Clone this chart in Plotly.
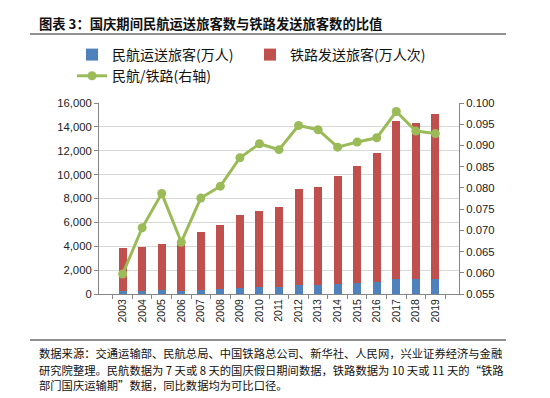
import plotly.graph_objects as go

years = [str(y) for y in range(2003, 2020)]
air = [217, 260, 303, 266, 373, 432, 528, 574, 597, 761, 770, 816, 893, 996, 1295, 1225, 1282]
rail = [3628, 3690, 3847, 3954, 4812, 5368, 6062, 6346, 6713, 8039, 8220, 9104, 9837, 10854, 13215, 13115, 13818]
ratio = [0.0597, 0.0706, 0.0787, 0.0672, 0.0776, 0.0804, 0.0871, 0.0904, 0.0890, 0.0947,
         0.0937, 0.0896, 0.0908, 0.0918, 0.0980, 0.0934, 0.0928]

left_ticks = list(range(0, 16001, 2000))
right_ticks = [0.055, 0.060, 0.065, 0.070, 0.075, 0.080, 0.085, 0.090, 0.095, 0.100]

W_FIG, H_FIG = 550, 398
L, R, T, B = 91, 99, 95, 112
PW = W_FIG - L - R
PH = H_FIG - T - B


def px_x(p):
    return (p - L) / PW


def px_y(p):
    return (T + PH - p) / PH


CJK = "Noto Sans CJK SC"
NUM = "Liberation Sans, Arial, sans-serif"

fig = go.Figure()
fig.add_trace(go.Bar(x=years, y=air, name="民航运送旅客(万人)", marker_color="#4F81BD",
                     marker_line_width=0))
fig.add_trace(go.Bar(x=years, y=rail, name="铁路发送旅客(万人次)", marker_color="#C0504D",
                     marker_line_width=0))
fig.add_trace(go.Scatter(x=years, y=ratio, name="民航/铁路(右轴)", yaxis="y2",
                         mode="lines+markers",
                         line=dict(color="#9BBB59", width=3),
                         marker=dict(color="#9BBB59", size=9)))

shapes = [
    dict(type="line", xref="paper", yref="paper", x0=px_x(22), x1=px_x(498),
         y0=px_y(26), y1=px_y(26), line=dict(color="#222222", width=1)),
    dict(type="line", xref="paper", yref="paper", x0=px_x(22), x1=px_x(498),
         y0=px_y(332), y1=px_y(332), line=dict(color="#222222", width=1)),
]

footer = [
    "数据来源：交通运输部、民航总局、中国铁路总公司、新华社、人民网，兴业证券经济与金融",
    "研究院整理。民航数据为 7 天或 8 天的国庆假日期间数据，铁路数据为 10 天或 11 天的“铁路",
    "部门国庆运输期”数据，同比数据均为可比口径。",
]
footer_y = [345, 361.5, 377]

annotations = [
    dict(text="<b>图表 3：国庆期间民航运送旅客数与铁路发送旅客数的比值</b>",
         xref="paper", yref="paper", x=px_x(29), y=px_y(16), xanchor="left", yanchor="middle",
         showarrow=False, font=dict(family=CJK, size=13.3, color="#111111")),
]
for t, yy in zip(footer, footer_y):
    annotations.append(dict(text=t, xref="paper", yref="paper", x=px_x(29), y=px_y(yy),
                            xanchor="left", yanchor="middle", showarrow=False,
                            font=dict(family=CJK, size=11.3, color="#111111")))

fig.update_layout(
    width=W_FIG, height=H_FIG,
    margin=dict(l=L, r=R, t=T, b=B, pad=0),
    paper_bgcolor="white", plot_bgcolor="white",
    barmode="stack", bargap=0.59,
    showlegend=True,
    legend=dict(orientation="h", x=px_x(64), y=px_y(31), xanchor="left", yanchor="top",
                traceorder="normal",
                font=dict(family=CJK, size=14, color="#111111"),
                entrywidth=133, entrywidthmode="pixels",
                itemwidth=30, tracegroupgap=0, bgcolor="rgba(0,0,0,0)"),
    xaxis=dict(type="category", tickangle=-90, tickson="boundaries", ticks="outside",
               ticklen=4, tickcolor="#868686", showline=True, linecolor="#868686",
               linewidth=1, showgrid=False,
               tickfont=dict(family=NUM, size=10.5, color="#222222")),
    yaxis=dict(range=[0, 16000], tickvals=left_ticks, tickformat=",d", ticks="outside",
               ticklen=4, tickcolor="#868686", showline=True, linecolor="#868686",
               linewidth=1, showgrid=True, gridcolor="#D9D9D9", gridwidth=1,
               zeroline=False,
               tickfont=dict(family=NUM, size=11.3, color="#222222")),
    yaxis2=dict(range=[0.055, 0.100], tickvals=right_ticks, tickformat=".3f",
                overlaying="y", side="right", ticks="outside", ticklen=4,
                tickcolor="#868686", showline=True, linecolor="#868686", linewidth=1,
                showgrid=False, zeroline=False,
                tickfont=dict(family=NUM, size=11.3, color="#222222")),
    shapes=shapes,
    annotations=annotations,
)

fig.write_html("out.html")
